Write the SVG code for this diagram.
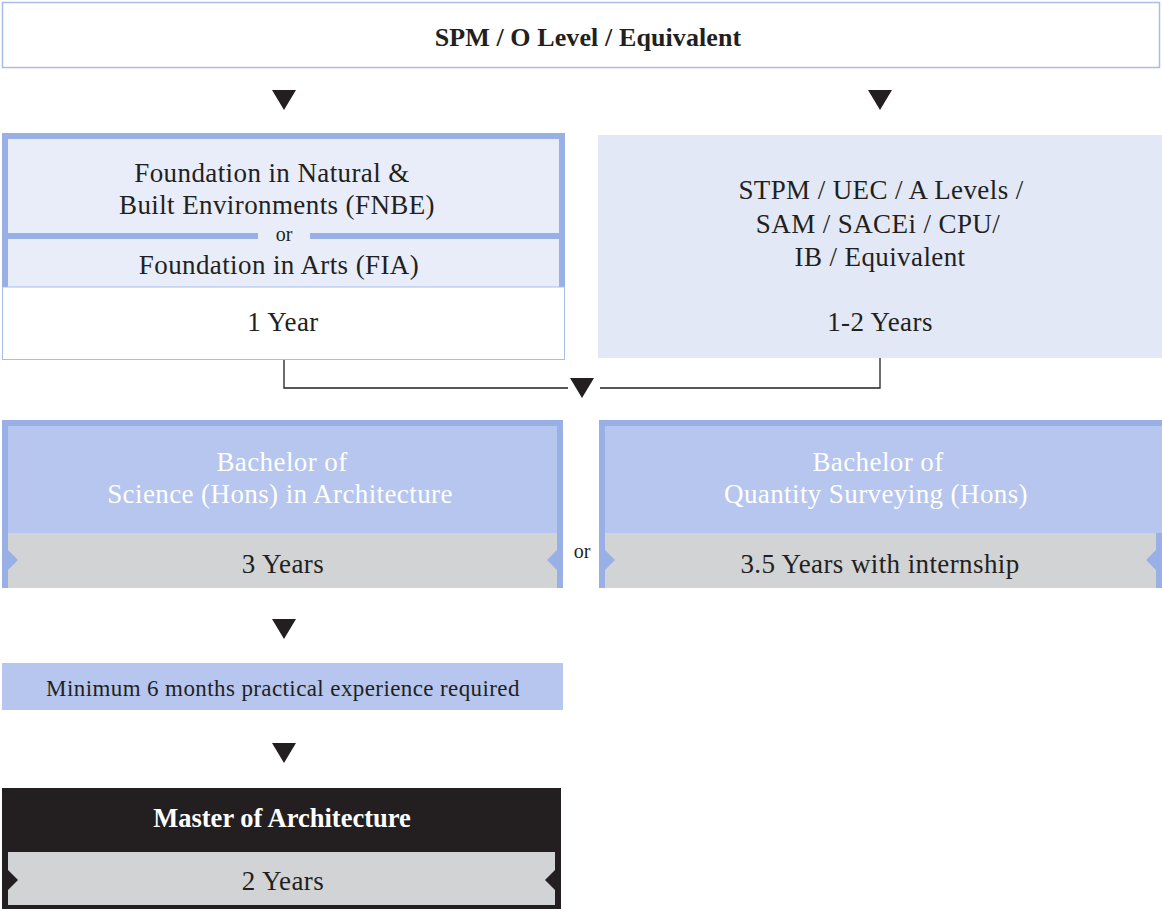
<svg xmlns="http://www.w3.org/2000/svg" width="1162" height="909" viewBox="0 0 1162 909">
<defs>
<style>
text{font-family:"Liberation Serif","DejaVu Serif",serif;fill:#231f20;text-anchor:middle;}
.t{font-size:27px;letter-spacing:0.4px;}
.w{fill:#ffffff;}
.b{font-weight:bold;}
.or{font-size:20px;}
.arrow{fill:#231f20;}
.conn{fill:none;stroke:#231f20;stroke-width:1.3;}
.blue{fill:#98b0e5;}
</style>
</defs>
<rect width="1162" height="909" fill="#ffffff"/>

<g id="node-spm">
<rect x="2.5" y="2.5" width="1157" height="65" fill="#ffffff" stroke="#a8bde8" stroke-width="1.5"/>
<text class="b" x="588" y="46" font-size="26" letter-spacing="0.1">SPM / O Level / Equivalent</text>
</g>

<g id="node-foundation">
<rect x="2" y="133" width="563" height="154" class="blue"/>
<rect x="8" y="139" width="551" height="94" fill="#e8edf9"/>
<rect x="8" y="239" width="551" height="48" fill="#e8edf9"/>
<rect x="258" y="232" width="52" height="8" fill="#e8edf9"/>
<rect x="2.5" y="287" width="562" height="72.5" fill="#ffffff" stroke="#a8bde8" stroke-width="1"/>
<text class="t" x="272" y="182">Foundation in Natural &amp;</text>
<text class="t" x="277" y="214">Built Environments (FNBE)</text>
<text class="or" x="284" y="241">or</text>
<text class="t" x="279" y="274">Foundation in Arts (FIA)</text>
<text class="t" x="283" y="331">1 Year</text>
</g>

<g id="node-stpm">
<rect x="598" y="135" width="564" height="223" fill="#e2e8f6"/>
<text class="t" x="881" y="199">STPM / UEC / A Levels /</text>
<text class="t" x="878" y="233">SAM / SACEi / CPU/</text>
<text class="t" x="880" y="266">IB / Equivalent</text>
<text class="t" x="880" y="331">1-2 Years</text>
</g>

<g id="node-bsc-arch">
<rect x="2" y="420" width="561" height="168" class="blue"/>
<rect x="8" y="426" width="549" height="107" fill="#b6c6ee"/>
<rect x="8" y="533" width="549" height="55" fill="#d1d3d5"/>
<polygon points="8,550 18,560 8,570" class="blue"/>
<polygon points="557,550 547,560 557,570" class="blue"/>
<text class="t w" x="282" y="471">Bachelor of</text>
<text class="t w" x="280" y="503">Science (Hons) in Architecture</text>
<text class="t" x="283" y="573">3 Years</text>
</g>

<text class="or" x="582" y="558">or</text>

<g id="node-bqs">
<rect x="599" y="420" width="563" height="168" class="blue"/>
<rect x="605" y="426" width="557" height="107" fill="#b6c6ee"/>
<rect x="605" y="533" width="551" height="55" fill="#d1d3d5"/>
<polygon points="605,550 615,560 605,570" class="blue"/>
<polygon points="1156,550 1146,560 1156,570" class="blue"/>
<text class="t w" x="878" y="471">Bachelor of</text>
<text class="t w" x="876" y="503">Quantity Surveying (Hons)</text>
<text class="t" x="880" y="573">3.5 Years with internship</text>
</g>

<g id="node-practical">
<rect x="2" y="663" width="561" height="47" fill="#b6c6ee"/>
<text x="283" y="696" font-size="23" letter-spacing="0.4">Minimum 6 months practical experience required</text>
</g>

<g id="node-march">
<rect x="2" y="788" width="559" height="121" fill="#231f20"/>
<rect x="8" y="852" width="547" height="53" fill="#d1d3d5"/>
<polygon points="8,870 18,880 8,890" fill="#231f20"/>
<polygon points="555,870 545,880 555,890" fill="#231f20"/>
<text class="w b" x="282" y="827" font-size="26.5">Master of Architecture</text>
<text class="t" x="283" y="890">2 Years</text>
</g>

<g id="connectors">
<polygon class="arrow" points="272,90 296,90 284,110"/>
<polygon class="arrow" points="868,90 892,90 880,110"/>
<polyline class="conn" points="284,360 284,388 568,388"/>
<polyline class="conn" points="600,388 880,388 880,358"/>
<polygon class="arrow" points="570,378 594,378 582,398"/>
<polygon class="arrow" points="272,619 296,619 284,639"/>
<polygon class="arrow" points="272,743 296,743 284,763"/>
</g>
</svg>
